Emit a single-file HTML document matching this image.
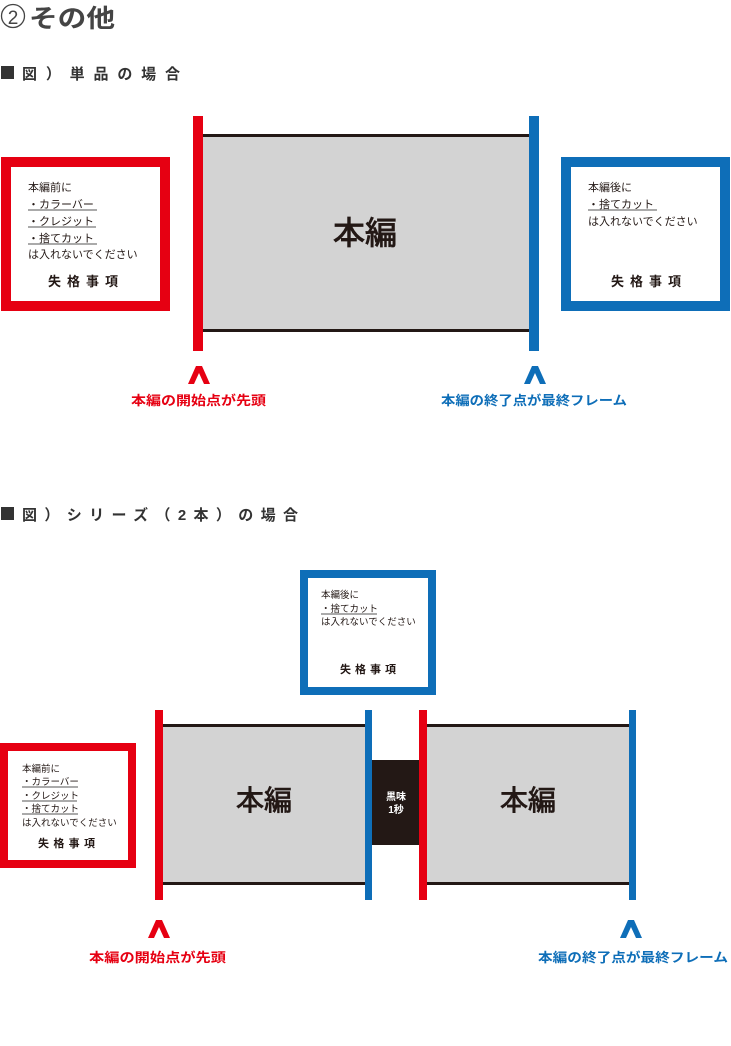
<!DOCTYPE html>
<html><head><meta charset="utf-8"><style>
html,body{margin:0;padding:0;background:#fff;}
svg{display:block;}
text{font-family:"Liberation Sans","Noto Sans CJK JP",sans-serif;}
</style></head><body>
<svg width="731" height="1046" viewBox="0 0 731 1046" xmlns="http://www.w3.org/2000/svg">
<!-- heading -->
<circle cx="13" cy="16" r="11.5" fill="none" stroke="#444" stroke-width="1.3"/>
<text x="13" y="24" font-size="19" fill="#444" text-anchor="middle">2</text>
<text x="29" y="27" font-size="25" font-weight="bold" fill="#444" textLength="86" lengthAdjust="spacingAndGlyphs">その他</text>
<rect x="1" y="66" width="13" height="13" fill="#333"/>
<text x="22" y="79" font-size="15" font-weight="bold" fill="#333" textLength="158" lengthAdjust="spacing">図）単品の場合</text>

<!-- section 1 -->
<rect x="6" y="162" width="159" height="144" fill="#fff" stroke="#e60012" stroke-width="10"/>
<g font-size="11" fill="#231815">
<text x="28" y="191">本編前に</text>
<text x="28" y="208">・カラーバー</text>
<text x="28" y="225">・クレジット</text>
<text x="28" y="242">・捨てカット</text>
<text x="28" y="258">は入れないでください</text>
</g>
<g stroke="#555" stroke-width="1"><line x1="28" y1="210" x2="97" y2="210"/><line x1="28" y1="227" x2="96" y2="227"/><line x1="28" y1="244" x2="97" y2="244"/></g>
<text x="48" y="286" font-size="13" font-weight="bold" fill="#231815" textLength="70" lengthAdjust="spacing">失格事項</text>

<rect x="203" y="135" width="327" height="196" fill="#d3d3d3"/>
<rect x="203" y="134" width="327" height="3" fill="#231815"/>
<rect x="203" y="329" width="327" height="3" fill="#231815"/>
<rect x="193" y="116" width="10" height="235" fill="#e60012"/>
<rect x="529" y="116" width="10" height="235" fill="#0e6eb8"/>
<text x="365" y="244" font-size="32" fill="#231815" stroke="#231815" stroke-width="0.9" text-anchor="middle">本編</text>

<rect x="566" y="162" width="159" height="144" fill="#fff" stroke="#0e6eb8" stroke-width="10"/>
<g font-size="11" fill="#231815">
<text x="588" y="191">本編後に</text>
<text x="588" y="208">・捨てカット</text>
<text x="588" y="225">は入れないでください</text>
</g>
<line x1="588" y1="210" x2="657" y2="210" stroke="#555" stroke-width="1"/>
<text x="611" y="286" font-size="13" font-weight="bold" fill="#231815" textLength="70" lengthAdjust="spacing">失格事項</text>

<polygon points="188,384 196,366 202,366 210,384 204,384 199,373 194,384" fill="#e60012"/>
<polygon points="524,384 532,366 538,366 546,384 540,384 535,373 530,384" fill="#0e6eb8"/>
<text x="131" y="405" font-size="13" font-weight="bold" fill="#e60012" textLength="135" lengthAdjust="spacingAndGlyphs">本編の開始点が先頭</text>
<text x="441" y="405" font-size="13" font-weight="bold" fill="#0e6eb8" textLength="186" lengthAdjust="spacingAndGlyphs">本編の終了点が最終フレーム</text>

<!-- section 2 -->
<rect x="1" y="507" width="13" height="13" fill="#333"/>
<text x="22" y="520" font-size="15" font-weight="bold" fill="#333" textLength="276" lengthAdjust="spacing">図）シリーズ（2本）の場合</text>

<rect x="304" y="574" width="128" height="117" fill="#fff" stroke="#0e6eb8" stroke-width="8"/>
<g font-size="9.5" fill="#231815">
<text x="321" y="598">本編後に</text>
<text x="321" y="612">・捨てカット</text>
<text x="321" y="625">は入れないでください</text>
</g>
<line x1="321" y1="614" x2="377" y2="614" stroke="#555" stroke-width="1"/>
<text x="340" y="673" font-size="11" font-weight="bold" fill="#231815" textLength="56" lengthAdjust="spacing">失格事項</text>

<rect x="4" y="747" width="128" height="117" fill="#fff" stroke="#e60012" stroke-width="8"/>
<g font-size="9.5" fill="#231815">
<text x="22" y="772">本編前に</text>
<text x="22" y="785">・カラーバー</text>
<text x="22" y="799">・クレジット</text>
<text x="22" y="812">・捨てカット</text>
<text x="22" y="826">は入れないでください</text>
</g>
<g stroke="#555" stroke-width="1"><line x1="22" y1="787" x2="78" y2="787"/><line x1="22" y1="801" x2="77" y2="801"/><line x1="22" y1="814" x2="78" y2="814"/></g>
<text x="38" y="847" font-size="11" font-weight="bold" fill="#231815" textLength="57" lengthAdjust="spacing">失格事項</text>

<rect x="163" y="725" width="202" height="160" fill="#d3d3d3"/>
<rect x="163" y="724" width="202" height="3" fill="#231815"/>
<rect x="163" y="882" width="202" height="3" fill="#231815"/>
<rect x="427" y="725" width="202" height="160" fill="#d3d3d3"/>
<rect x="427" y="724" width="202" height="3" fill="#231815"/>
<rect x="427" y="882" width="202" height="3" fill="#231815"/>
<rect x="372" y="760" width="47" height="85" fill="#231815"/>
<rect x="155" y="710" width="8" height="190" fill="#e60012"/>
<rect x="365" y="710" width="7" height="190" fill="#0e6eb8"/>
<rect x="419" y="710" width="8" height="190" fill="#e60012"/>
<rect x="629" y="710" width="7" height="190" fill="#0e6eb8"/>
<text x="264" y="810" font-size="28" fill="#231815" stroke="#231815" stroke-width="0.8" text-anchor="middle">本編</text>
<text x="528" y="810" font-size="28" fill="#231815" stroke="#231815" stroke-width="0.8" text-anchor="middle">本編</text>
<text x="396" y="800" font-size="10" font-weight="bold" fill="#fff" text-anchor="middle">黒味</text>
<text x="396" y="813" font-size="10" font-weight="bold" fill="#fff" text-anchor="middle">1秒</text>

<polygon points="148,938 156,920 162,920 170,938 164,938 159,927 154,938" fill="#e60012"/>
<polygon points="620,938 628,920 634,920 642,938 636,938 631,927 626,938" fill="#0e6eb8"/>
<text x="89" y="962" font-size="13" font-weight="bold" fill="#e60012" textLength="137" lengthAdjust="spacingAndGlyphs">本編の開始点が先頭</text>
<text x="538" y="962" font-size="13" font-weight="bold" fill="#0e6eb8" textLength="190" lengthAdjust="spacingAndGlyphs">本編の終了点が最終フレーム</text>
</svg>
</body></html>
